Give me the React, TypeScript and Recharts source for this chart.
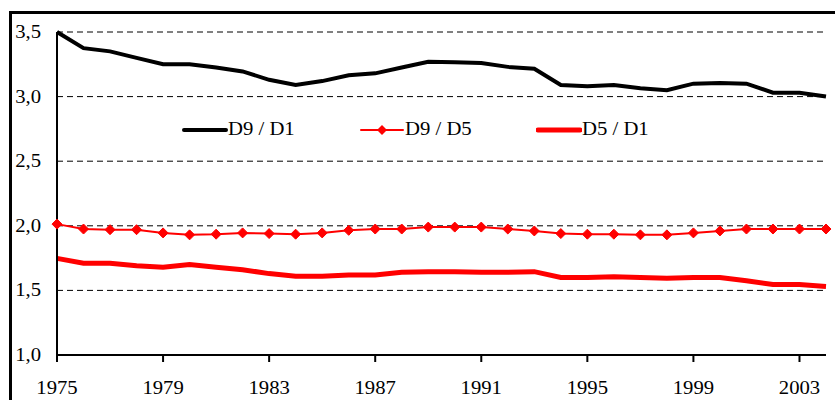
import React from "react"
import { LineChart, Line, XAxis, YAxis, CartesianGrid, Legend } from "recharts"

const years = [
  1975, 1976, 1977, 1978, 1979, 1980, 1981, 1982, 1983, 1984, 1985, 1986, 1987, 1988, 1989,
  1990, 1991, 1992, 1993, 1994, 1995, 1996, 1997, 1998, 1999, 2000, 2001, 2002, 2003, 2004,
]

const d9d1 = [
  3.5, 3.375, 3.35, 3.3, 3.25, 3.25, 3.225, 3.195, 3.13, 3.09, 3.12, 3.165, 3.18, 3.225, 3.27,
  3.265, 3.26, 3.23, 3.215, 3.09, 3.08, 3.09, 3.065, 3.05, 3.1, 3.105, 3.1, 3.03, 3.03, 3.0,
]

const d9d5 = [
  2.013, 1.975, 1.97, 1.97, 1.945, 1.93, 1.935, 1.945, 1.94, 1.935, 1.945, 1.965, 1.975, 1.975, 1.99,
  1.99, 1.99, 1.975, 1.96, 1.94, 1.935, 1.935, 1.93, 1.93, 1.945, 1.96, 1.975, 1.975, 1.975, 1.975,
]

const d5d1 = [
  1.748, 1.71, 1.71, 1.69, 1.68, 1.7, 1.68, 1.66, 1.63, 1.61, 1.61, 1.62, 1.62, 1.64, 1.645,
  1.645, 1.64, 1.64, 1.645, 1.6, 1.6, 1.605, 1.6, 1.595, 1.6, 1.6, 1.575, 1.545, 1.545, 1.53,
]

const xTicks = [1975, 1979, 1983, 1987, 1991, 1995, 1999, 2003]
const yTicks = [1, 1.5, 2, 2.5, 3, 3.5]

const data = years.map((year, i) => ({
  year,
  d9d1: d9d1[i],
  d9d5: d9d5[i],
  d5d1: d5d1[i],
}))

const FONT = "Liberation Serif, Times New Roman, DejaVu Serif, serif"

const Diamond = (props: any) => {
  const { cx, cy } = props
  if (cx == null || cy == null) return null
  const r = 5
  return (
    <polygon
      points={`${cx},${cy - r} ${cx + r},${cy} ${cx},${cy + r} ${cx - r},${cy}`}
      fill="#FF0000"
      stroke="#FF0000"
    />
  )
}

const XTick = (props: any) => {
  const { x, y, payload } = props
  return (
    <text
      transform={`translate(${x},${y + 30}) scale(1.15,1)`}
      textAnchor="middle"
      style={{ fontFamily: FONT, fontSize: 18 }}
      fill="#000"
    >
      {payload.value}
    </text>
  )
}

const YTick = (props: any) => {
  const { y, payload } = props
  return (
    <text
      transform={`translate(41,${y + 6}) scale(1.15,1)`}
      textAnchor="end"
      style={{ fontFamily: FONT, fontSize: 18 }}
      fill="#000"
    >
      {Number(payload.value).toFixed(1).replace(".", ",")}
    </text>
  )
}

const legendItems = [
  { label: "D9 / D1", color: "#000", width: 4, diamond: false },
  { label: "D9 / D5", color: "#FF0000", width: 2, diamond: true },
  { label: "D5 / D1", color: "#FF0000", width: 5, diamond: false },
]

const LegendContent = () => (
  <div style={{ display: "flex", fontFamily: FONT, fontSize: 18, color: "#000" }}>
    {legendItems.map((it) => (
      <div key={it.label} style={{ display: "flex", alignItems: "center", width: 177 }}>
        <svg width={46} height={14}>
          <line x1={2} x2={44} y1={7} y2={7} stroke={it.color} strokeWidth={it.width} strokeLinecap="round" />
          {it.diamond && <polygon points="23,2 28,7 23,12 18,7" fill={it.color} />}
        </svg>
        <span style={{ display: "inline-block", transform: "scaleX(1.15)", transformOrigin: "left center" }}>{it.label}</span>
      </div>
    ))}
  </div>
)

export default function App() {
  return (
    <div style={{ position: "absolute", left: 0, top: 0, width: 835, height: 400, overflow: "hidden", background: "#fff" }}>
      <div
        style={{
          position: "absolute",
          left: 9,
          top: 11,
          width: 900,
          height: 500,
          border: "3px solid #000",
        }}
      />
      <div style={{ position: "absolute", left: 0, top: 0 }}>
        <LineChart width={835} height={400} data={data} margin={{ top: 32, right: 9, left: 0, bottom: 0 }}>
          <CartesianGrid vertical={false} stroke="#000" strokeDasharray="6 4" strokeWidth={1} />
          <XAxis
            dataKey="year"
            type="number"
            domain={[1975, 2004]}
            ticks={xTicks}
            height={45}
            tick={<XTick />}
            tickSize={7}
            axisLine={{ stroke: "#000", strokeWidth: 2 }}
            tickLine={{ stroke: "#000", strokeWidth: 2 }}
            allowDecimals={false}
          />
          <YAxis
            domain={[1, 3.5]}
            ticks={yTicks}
            width={57}
            tick={<YTick />}
            tickLine={false}
            axisLine={{ stroke: "#000", strokeWidth: 2 }}
          />
          <Legend
            verticalAlign="middle"
            align="center"
            layout="horizontal"
            content={<LegendContent />}
            wrapperStyle={{ left: 182, top: 119, width: 560 }}
          />
          <Line
            dataKey="d9d1"
            name="D9 / D1"
            stroke="#000"
            strokeWidth={4}
            dot={false}
            isAnimationActive={false}
          />
          <Line
            dataKey="d9d5"
            name="D9 / D5"
            stroke="#FF0000"
            strokeWidth={2}
            dot={<Diamond />}
            isAnimationActive={false}
          />
          <Line
            dataKey="d5d1"
            name="D5 / D1"
            stroke="#FF0000"
            strokeWidth={5}
            dot={false}
            isAnimationActive={false}
          />
        </LineChart>
      </div>
    </div>
  )
}
